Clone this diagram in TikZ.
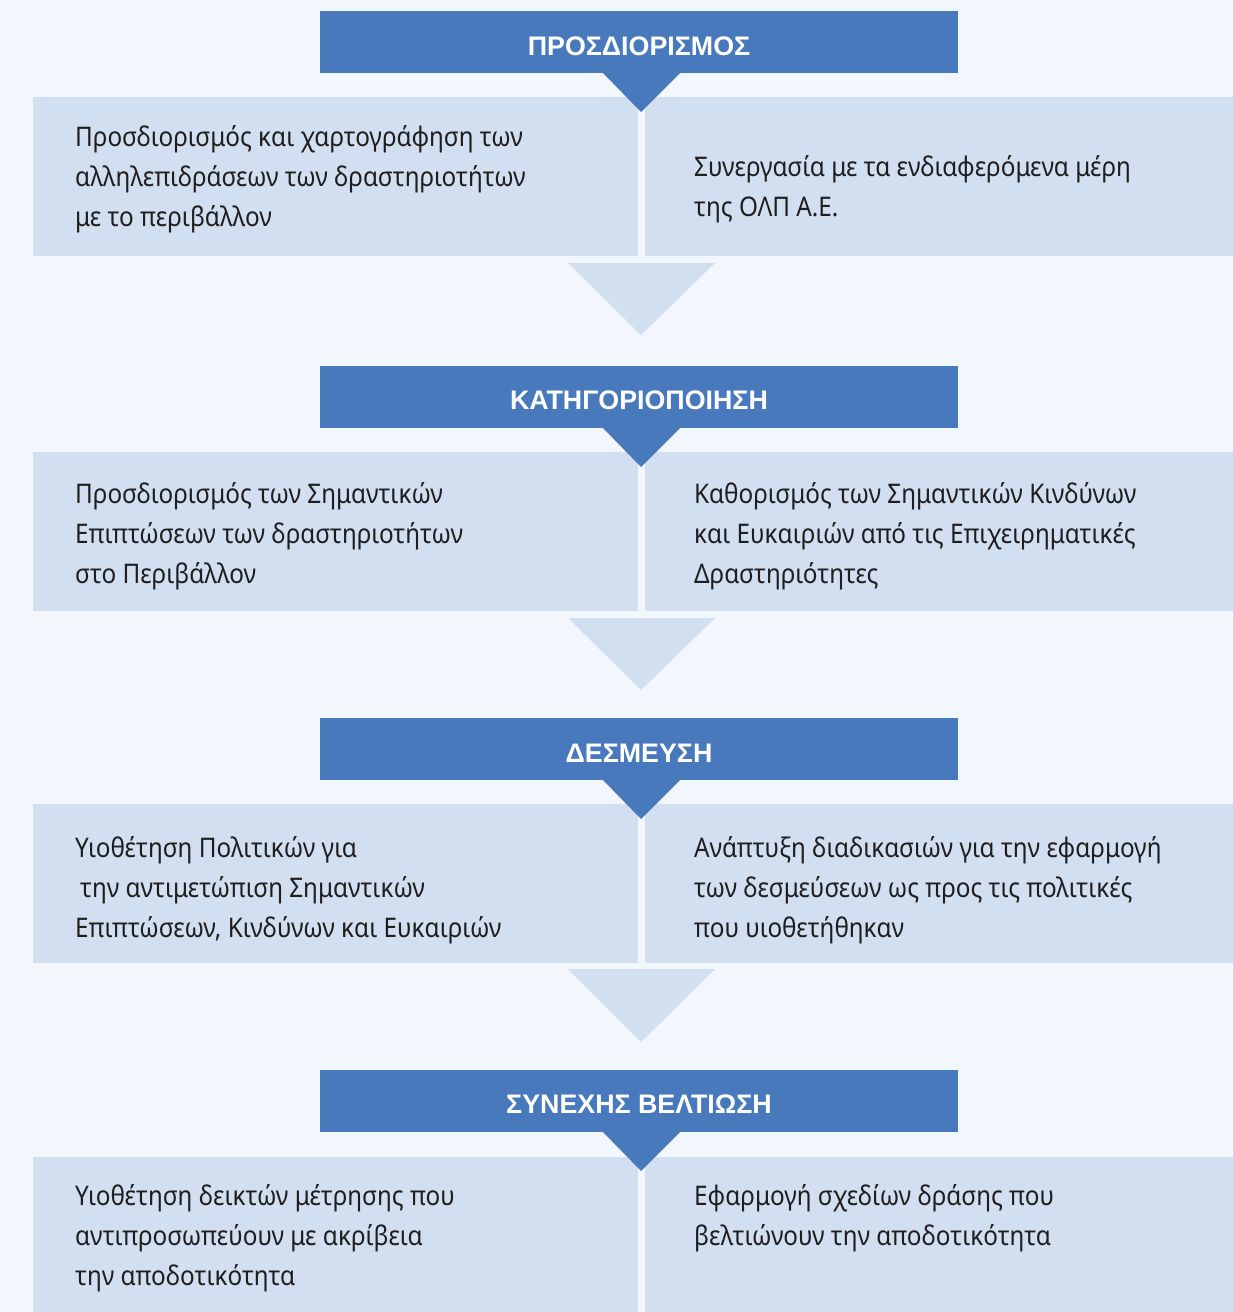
\documentclass[tikz,border=0pt]{standalone}
\usepackage{fontspec}
\setmainfont{Noto Sans}
\newfontfamily\bodyfont[FakeStretch=0.9]{Noto Sans}
\newfontfamily\headfont{Liberation Sans}
\definecolor{bg}{HTML}{F2F6FD}
\definecolor{hblue}{HTML}{4779BC}
\definecolor{lbox}{HTML}{D2DFF1}
\definecolor{tcol}{HTML}{1E1E1E}
\begin{document}
\begin{tikzpicture}[x=1pt,y=-1pt,
  hdr/.style={fill=hblue, minimum width=638pt, minimum height=62pt, inner sep=0pt, anchor=north west},
  hlabel/.style={inner sep=0pt, text=white, font=\headfont\bfseries\fontsize{26.8}{30}\selectfont},
  lbox/.style={fill=lbox, inner sep=0pt, anchor=north west, minimum height=159pt, minimum width=605pt},
  rbox/.style={fill=lbox, inner sep=0pt, anchor=north west, minimum height=159pt, minimum width=588pt},
  txt/.style={anchor=base west, inner sep=0pt, align=left, text=tcol, font=\bodyfont\fontsize{27}{40}\selectfont},
  flow/.style={fill=lbox},
  tip/.style={fill=hblue}]
\fill[bg] (0,0) rectangle (1233,1312);
\useasboundingbox (0,0) rectangle (1233,1312);

% ---------- Row 1 ----------
\node[hdr] (h1) at (320,11) {};
\node[hlabel] (h1t) at (639,46) {ΠΡΟΣΔΙΟΡΙΣΜΟΣ};
\node[lbox] (b1l) at (33,97) {};
\node[rbox] (b1r) at (645,97) {};
\fill[tip] (603,73) -- (680,73) -- (641,112) -- cycle;
\node[txt] (t1l) at (75,226) {Προσδιορισμός και χαρτογράφηση των\\αλληλεπιδράσεων των δραστηριοτήτων\\με το περιβάλλον};
\node[txt] (t1r) at (694,216) {Συνεργασία με τα ενδιαφερόμενα μέρη\\της ΟΛΠ Α.Ε.};
\coordinate (f1) at (641,335);
\fill[flow] (568,263) -- (715,263) -- (f1) -- cycle;

% ---------- Row 2 ----------
\node[hdr] (h2) at (320,366) {};
\node[hlabel] (h2t) at (639,400) {ΚΑΤΗΓΟΡΙΟΠΟΙΗΣΗ};
\node[lbox] (b2l) at (33,452) {};
\node[rbox] (b2r) at (645,452) {};
\fill[tip] (603,428) -- (680,428) -- (641,467) -- cycle;
\node[txt] (t2l) at (75,583) {Προσδιορισμός των Σημαντικών\\Επιπτώσεων των δραστηριοτήτων\\στο Περιβάλλον};
\node[txt] (t2r) at (694,583) {Καθορισμός των Σημαντικών Κινδύνων\\και Ευκαιριών από τις Επιχειρηματικές\\Δραστηριότητες};
\coordinate (f2) at (641,690);
\fill[flow] (568,618) -- (715,618) -- (f2) -- cycle;

% ---------- Row 3 ----------
\node[hdr] (h3) at (320,718) {};
\node[hlabel] (h3t) at (639,753) {ΔΕΣΜΕΥΣΗ};
\node[lbox] (b3l) at (33,804) {};
\node[rbox] (b3r) at (645,804) {};
\fill[tip] (603,780) -- (680,780) -- (641,819) -- cycle;
\node[txt] (t3l) at (75,937) {Υιοθέτηση Πολιτικών για\\\hspace{5pt}την αντιμετώπιση Σημαντικών\\Επιπτώσεων, Κινδύνων και Ευκαιριών};
\node[txt] (t3r) at (694,937) {Ανάπτυξη διαδικασιών για την εφαρμογή\\των δεσμεύσεων ως προς τις πολιτικές\\που υιοθετήθηκαν};
\coordinate (f3) at (641,1042);
\fill[flow] (568,969) -- (715,969) -- (f3) -- cycle;

% ---------- Row 4 ----------
\node[hdr] (h4) at (320,1070) {};
\node[hlabel] (h4t) at (639,1104) {ΣΥΝΕΧΗΣ ΒΕΛΤΙΩΣΗ};
\node[lbox, minimum height=160pt] (b4l) at (33,1157) {};
\node[rbox, minimum height=160pt] (b4r) at (645,1157) {};
\fill[tip] (603,1132) -- (680,1132) -- (641,1171) -- cycle;
\node[txt] (t4l) at (75,1285) {Υιοθέτηση δεικτών μέτρησης που\\αντιπροσωπεύουν με ακρίβεια\\την αποδοτικότητα};
\node[txt] (t4r) at (694,1245) {Εφαρμογή σχεδίων δράσης που\\βελτιώνουν την αποδοτικότητα};
\end{tikzpicture}
\end{document}
